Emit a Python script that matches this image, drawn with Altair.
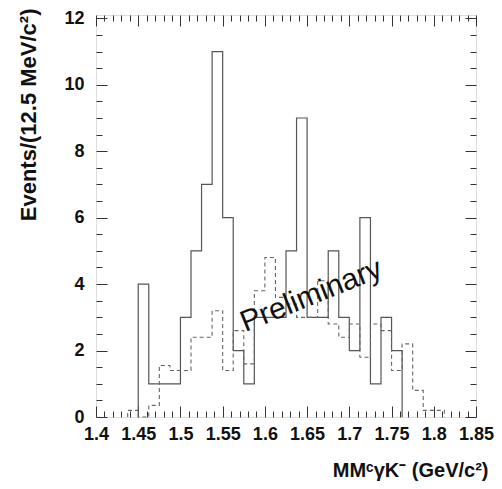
import altair as alt
import pandas as pd

# ---- data ----
bin_width = 0.0125
solid_start = 1.45
solid_counts = [4, 1, 1, 1, 3, 5, 7, 11, 6, 2, 1, 3, 3, 3, 5, 9, 3, 3, 5, 3, 2, 6, 1, 3, 2]
dashed_start = 1.4375
dashed_counts = [0.2, 0, 0.35, 1.55, 1.4, 1.4, 2.4, 2.4, 3.2, 1.4, 2.6, 1.6, 3.8, 4.8,
                 3.6, 3.4, 3.0, 3.0, 4.1, 2.8, 2.4, 2.8, 1.8, 2.8, 2.6, 1.4, 2.2, 0.8, 0.2, 0.2]
x_major = [1.4, 1.45, 1.5, 1.55, 1.6, 1.65, 1.7, 1.75, 1.8, 1.85]
y_major = [0, 2, 4, 6, 8, 10, 12]
x_minor = [round(1.4 + 0.01 * i, 2) for i in range(46)]
y_minor = [0.5 * i for i in range(25)]
label_text = ["Preliminary"]
label_x = [1.655]
label_y = [3.65]

W, H = 380, 402
FONT = "Liberation Sans"


def outline(start, counts):
    rows = [{"x": start, "y": 0, "o": 0}]
    for i, c in enumerate(counts):
        rows.append({"x": round(start + i * bin_width, 5), "y": c, "o": i + 1})
    rows.append({"x": round(start + len(counts) * bin_width, 5), "y": 0, "o": len(counts) + 1})
    return pd.DataFrame(rows)


solid_df = outline(solid_start, solid_counts)
dashed_df = outline(dashed_start, dashed_counts)
text_df = pd.DataFrame({"x": label_x, "y": label_y, "t": label_text})

xscale = alt.Scale(domain=[1.4, 1.85], nice=False, zero=False)
yscale = alt.Scale(domain=[0, 12.1], nice=False, zero=False)

x_tick_cond = {"condition": {"test": "abs(datum.value*20 - round(datum.value*20)) < 0.01", "value": 11}, "value": 6}
y_tick_cond = {"condition": {"test": "abs(datum.value/2 - round(datum.value/2)) < 0.01", "value": 11}, "value": 6}

solid = alt.Chart(solid_df).mark_line(interpolate="step-after", color="#555", strokeWidth=1.2).encode(
    x=alt.X("x:Q", scale=xscale, axis=alt.Axis(
        orient="bottom", values=x_major, format="~g", ticks=False, domain=False, grid=False,
        labelOverlap=False, labelFlush=False,
        labelFont=FONT, labelFontWeight="bold", labelFontSize=18, labelPadding=8, labelColor="#111",
        title="MMᶜγK⁻  (GeV/c²)", titleFont=FONT, titleFontWeight="bold", titleFontSize=20,
        titleColor="#111", titleX=392, titleY=53, titleAlign="right", titleBaseline="middle")),
    y=alt.Y("y:Q", scale=yscale, axis=alt.Axis(
        orient="left", values=y_major, ticks=False, domain=False, grid=False,
        labelOverlap=False, labelFlush=False,
        labelFont=FONT, labelFontWeight="bold", labelFontSize=18, labelPadding=12, labelColor="#111",
        title="Events/(12.5 MeV/c²)", titleFont=FONT, titleFontWeight="bold", titleFontSize=22,
        titleColor="#111", titleAngle=270, titleAlign="right", titleBaseline="middle",
        titleX=-68, titleY=-7)),
    order=alt.Order("o:Q"),
)

dashed = alt.Chart(dashed_df).mark_line(interpolate="step-after", color="#666", strokeWidth=1.1,
                                        strokeDash=[4, 3]).encode(
    x=alt.X("x:Q", scale=xscale, axis=alt.Axis(
        orient="top", offset=-H, values=x_minor, labels=False, domain=False, grid=False,
        ticks=True, tickSize=x_tick_cond, tickColor="#333", title=None)),
    y=alt.Y("y:Q", scale=yscale, axis=alt.Axis(
        orient="right", offset=-W, values=y_minor, labels=False, domain=False, grid=False,
        ticks=True, tickSize=y_tick_cond, tickColor="#333", title=None)),
    order=alt.Order("o:Q"),
)

text = alt.Chart(text_df).mark_text(font=FONT, fontSize=30, angle=338, color="#111",
                                    align="center", baseline="middle").encode(
    x=alt.X("x:Q", scale=xscale, axis=alt.Axis(
        orient="bottom", offset=-H, values=x_minor, labels=False, domain=False, grid=False,
        ticks=True, tickSize=x_tick_cond, tickColor="#333", title=None)),
    y=alt.Y("y:Q", scale=yscale, axis=alt.Axis(
        orient="left", offset=-W, values=y_minor, labels=False, domain=False, grid=False,
        ticks=True, tickSize=y_tick_cond, tickColor="#333", title=None)),
    text="t:N",
)

chart = alt.layer(solid, dashed, text).resolve_axis(
    x="independent", y="independent"
).properties(
    width=W, height=H,
    padding={"left": 88, "top": 7, "right": 18, "bottom": 70},
    autosize=alt.AutoSizeParams(type="none"),
).configure_view(stroke="#333", strokeWidth=1).configure(background="white")

chart.save("out.html", embed_options={"renderer": "svg", "actions": False})
